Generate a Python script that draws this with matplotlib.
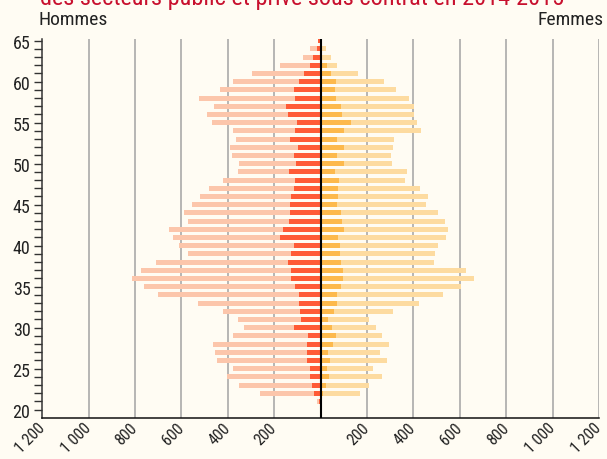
import matplotlib
matplotlib.use("Agg")
import matplotlib.pyplot as plt
import matplotlib.font_manager as fm
import numpy as np

# ---- data ----
ages = list(range(21, 66))
men_total = [14, 262, 350, 404, 376, 447, 456, 462, 376, 329,
             358, 423, 527, 702, 763, 813, 776, 711, 574, 609,
             636, 652, 570, 587, 555, 518, 482, 419, 358, 350,
             384, 390, 367, 377, 469, 488, 459, 525, 433, 380,
             294, 176, 78, 46, 13]
men_part = [7, 29, 37, 47, 47, 58, 58, 59, 56, 115,
            86, 88, 94, 95, 111, 128, 128, 142, 127, 114,
            177, 164, 138, 131, 134, 128, 114, 111, 135, 106,
            114, 98, 131, 112, 104, 141, 150, 111, 114, 95,
            71, 47, 35, 17, 10]
women_total = [3, 168, 210, 266, 224, 288, 255, 294, 263, 240,
               209, 311, 423, 527, 607, 660, 626, 488, 494, 505,
               542, 548, 538, 504, 453, 462, 427, 363, 371, 308,
               305, 312, 317, 432, 416, 403, 404, 383, 324, 275,
               163, 72, 46, 22, 3]
women_part = [2, 12, 24, 36, 27, 40, 32, 55, 66, 47,
              30, 56, 72, 72, 86, 95, 95, 86, 85, 83,
              73, 102, 92, 86, 71, 75, 75, 78, 63, 102,
              72, 101, 71, 101, 129, 91, 89, 66, 60, 66,
              45, 27, 6, 4, 2]
x_ticks = [-1200, -1000, -800, -600, -400, -200, 200, 400, 600, 800, 1000, 1200]
x_labels = ["1 200", "1 000", "800", "600", "400", "200",
            "200", "400", "600", "800", "1 000", "1 200"]
y_major = [20, 25, 30, 35, 40, 45, 50, 55, 60, 65]
title_text = "des secteurs public et privé sous contrat en 2014-2015"

# ---- font ----
names = {f.name for f in fm.fontManager.ttflist}
font = "DejaVu Sans"
for cand in ["Liberation Sans Narrow", "Roboto Condensed", "Open Sans Condensed", "Roboto"]:
    if cand in names:
        font = cand
        break
plt.rcParams["font.family"] = [font, "DejaVu Sans"]

bg = "#FFFCF3"
c_men_light = "#FCC6AB"
c_men_dark = "#FF5B36"
c_wom_light = "#FDDBA0"
c_wom_dark = "#FDB94C"
txt = "#222222"

W, H = 607, 460
fig = plt.figure(figsize=(W / 100, H / 100), dpi=100, facecolor=bg)
ax = fig.add_axes([42.3 / W, (H - 418.9) / H, (599 - 42.3) / W, (418.9 - 39.6) / H])
ax.set_facecolor(bg)

bh = 0.6
m_tot = -np.array(men_total)
m_part = -np.array(men_part)
ax.barh(ages, m_tot, height=bh, color=c_men_light, zorder=2, linewidth=0)
ax.barh(ages, m_part, height=bh, color=c_men_dark, zorder=3, linewidth=0)
ax.barh(ages, women_total, height=bh, color=c_wom_light, zorder=2, linewidth=0)
ax.barh(ages, women_part, height=bh, color=c_wom_dark, zorder=3, linewidth=0)

ax.set_xlim(-1200, 1200)
ax.set_ylim(19, 65.25)

# grid lines
for xv in x_ticks:
    if xv != -1200:
        ax.axvline(xv, color="#A3A3A3", lw=1.1, zorder=1)
ax.axvline(0, color="black", lw=1.5, zorder=4)

for s in ["top", "right"]:
    ax.spines[s].set_visible(False)
ax.spines["left"].set_color("#333333")
ax.spines["left"].set_linewidth(1.1)
ax.spines["bottom"].set_color("#111111")
ax.spines["bottom"].set_linewidth(1.1)

ax.set_yticks(y_major)
ax.set_yticklabels([str(v) for v in y_major])
ax.set_yticks(list(range(20, 66)), minor=True)
ax.tick_params(axis="y", which="both", length=5.5, width=1, color="#333333",
               direction="out", labelsize=13, labelcolor=txt, pad=3)

ax.set_xticks(x_ticks)
ax.set_xticklabels(x_labels, rotation=45, ha="right", va="center",
                   rotation_mode="anchor")
ax.tick_params(axis="x", length=0, labelsize=11.5, labelcolor=txt, pad=5)

fig.text(38 / W, 1 - 25 / H, "Hommes", ha="left", va="baseline",
         fontsize=14, color=txt)
fig.text(604 / W, 1 - 25 / H, "Femmes", ha="right", va="baseline",
         fontsize=14, color=txt)
fig.text(40 / W, 1 - 5 / H, title_text, ha="left", va="baseline",
         fontsize=17.5, color="#C8102E")

fig.savefig("out.png", dpi=100, facecolor=bg)
